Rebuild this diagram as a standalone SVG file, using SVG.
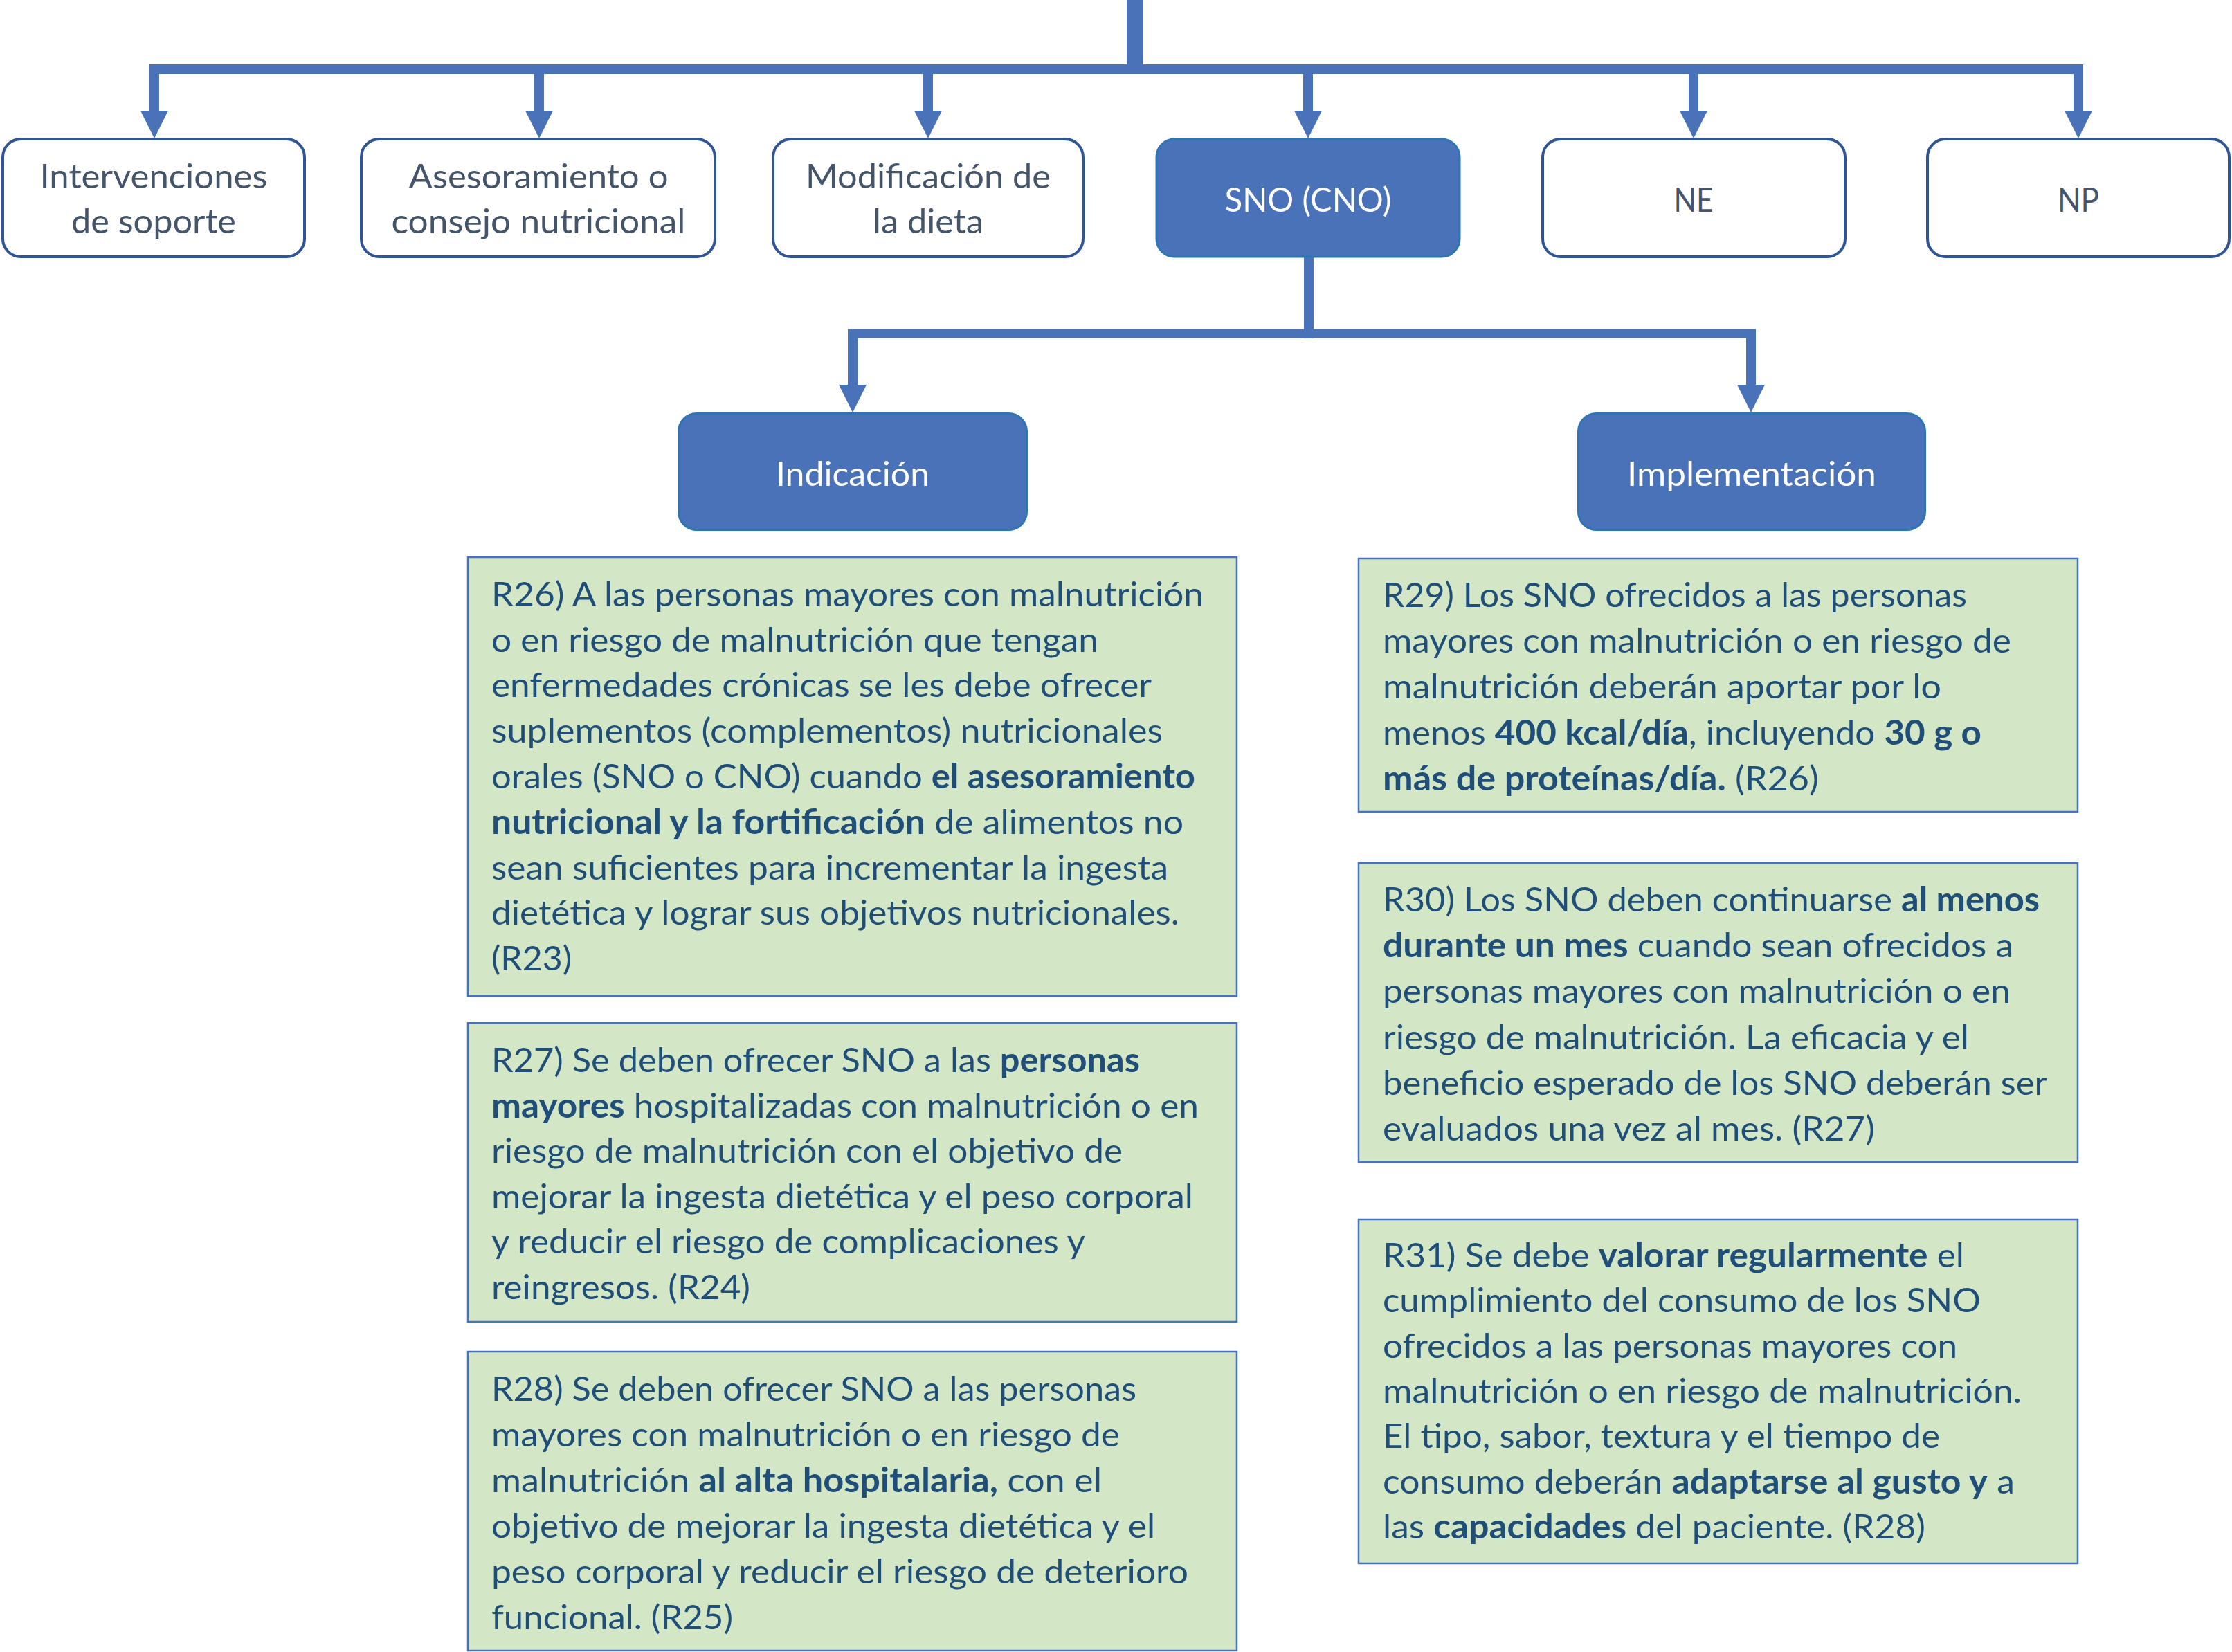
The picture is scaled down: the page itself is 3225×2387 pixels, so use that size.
<svg xmlns="http://www.w3.org/2000/svg" width="3225" height="2387" viewBox="0 0 3225 2387">
<style>
.conn{fill:none;stroke:#4A72B8;stroke-width:14}
.t{font-family:Lato,"Liberation Sans",sans-serif;font-size:49px}
.hdr rect{fill:#ffffff;stroke:#2F5597;stroke-width:4}
.hdr text{fill:#44546A;text-anchor:middle}
.blue rect{fill:#4A72B8;stroke:#2E75B6;stroke-width:3}
.blue text{fill:#ffffff;text-anchor:middle}
.rec rect{fill:#D3E6C6;stroke:#4472C4;stroke-width:2.5}
.rec text{fill:#1F4E79}
.b{font-weight:bold}
</style>
<defs>
<marker id="ah" markerUnits="userSpaceOnUse" viewBox="0 0 40 40" markerWidth="40" markerHeight="40" refX="9" refY="20" orient="auto">
<path d="M0,0 L40,20 L0,40 z" fill="#4A72B8"/>
</marker>
</defs>
<rect width="3225" height="2387" fill="#ffffff"/>
<g id="connectors">
<path class="conn" d="M1640,0 V107" style="stroke-width:24"/>
<path class="conn" d="M216,100 H3010"/>
<path class="conn" d="M223,100 V169" marker-end="url(#ah)"/>
<path class="conn" d="M779,100 V169" marker-end="url(#ah)"/>
<path class="conn" d="M1341,100 V169" marker-end="url(#ah)"/>
<path class="conn" d="M1890,100 V169" marker-end="url(#ah)"/>
<path class="conn" d="M2447,100 V169" marker-end="url(#ah)"/>
<path class="conn" d="M3003,100 V169" marker-end="url(#ah)"/>
<path class="conn" d="M1891,371 V489"/>
<path class="conn" d="M1225,482 H2537" style="stroke-width:13"/>
<path class="conn" d="M1232,482 V565" marker-end="url(#ah)"/>
<path class="conn" d="M2530,482 V565" marker-end="url(#ah)"/>
</g>
<g id="n-intervenciones" class="hdr">
<rect x="4" y="201" width="436" height="170" rx="26"/>
<text class="t" x="222" y="272" textLength="329" lengthAdjust="spacingAndGlyphs">Intervenciones</text>
<text class="t" x="222" y="337" textLength="238" lengthAdjust="spacingAndGlyphs">de soporte</text>
</g>
<g id="n-asesoramiento" class="hdr">
<rect x="522" y="201" width="511" height="170" rx="26"/>
<text class="t" x="778" y="272" textLength="375" lengthAdjust="spacingAndGlyphs">Asesoramiento o</text>
<text class="t" x="778" y="337" textLength="425" lengthAdjust="spacingAndGlyphs">consejo nutricional</text>
</g>
<g id="n-modificacion" class="hdr">
<rect x="1117" y="201" width="448" height="170" rx="26"/>
<text class="t" x="1341" y="272" textLength="354" lengthAdjust="spacingAndGlyphs">Modificación de</text>
<text class="t" x="1341" y="337" textLength="160" lengthAdjust="spacingAndGlyphs">la dieta</text>
</g>
<g id="n-sno" class="blue">
<rect x="1671" y="201" width="438" height="170" rx="26"/>
<text class="t" x="1890" y="306" textLength="241" lengthAdjust="spacingAndGlyphs">SNO (CNO)</text>
</g>
<g id="n-ne" class="hdr">
<rect x="2229" y="201" width="437" height="170" rx="26"/>
<text class="t" x="2447" y="306" textLength="57" lengthAdjust="spacingAndGlyphs">NE</text>
</g>
<g id="n-np" class="hdr">
<rect x="2785" y="201" width="436" height="170" rx="26"/>
<text class="t" x="3003" y="306" textLength="60" lengthAdjust="spacingAndGlyphs">NP</text>
</g>
<g id="n-indicacion" class="blue">
<rect x="980.5" y="597.5" width="503" height="168" rx="26"/>
<text class="t" x="1232" y="702" textLength="222" lengthAdjust="spacingAndGlyphs">Indicación</text>
</g>
<g id="n-implementacion" class="blue">
<rect x="2280.5" y="597.5" width="501" height="168" rx="26"/>
<text class="t" x="2531" y="702" textLength="360" lengthAdjust="spacingAndGlyphs">Implementación</text>
</g>
<g id="n-r26" class="rec">
<rect x="676" y="805" width="1111" height="634"/>
<text class="t" x="710" y="876" textLength="1029" lengthAdjust="spacingAndGlyphs">R26) A las personas mayores con malnutrición</text>
<text class="t" x="710" y="942" textLength="877" lengthAdjust="spacingAndGlyphs">o en riesgo de malnutrición que tengan</text>
<text class="t" x="710" y="1007" textLength="954" lengthAdjust="spacingAndGlyphs">enfermedades crónicas se les debe ofrecer</text>
<text class="t" x="710" y="1073" textLength="970" lengthAdjust="spacingAndGlyphs">suplementos (complementos) nutricionales</text>
<text class="t" x="710" y="1139" textLength="1017" lengthAdjust="spacingAndGlyphs">orales (SNO o CNO) cuando <tspan class="b">el asesoramiento</tspan></text>
<text class="t" x="710" y="1205" textLength="1000" lengthAdjust="spacingAndGlyphs"><tspan class="b">nutricional y la fortificación</tspan> de alimentos no</text>
<text class="t" x="710" y="1271" textLength="978" lengthAdjust="spacingAndGlyphs">sean suficientes para incrementar la ingesta</text>
<text class="t" x="710" y="1336" textLength="994" lengthAdjust="spacingAndGlyphs">dietética y lograr sus objetivos nutricionales.</text>
<text class="t" x="710" y="1402" textLength="116" lengthAdjust="spacingAndGlyphs">(R23)</text>
</g>
<g id="n-r27" class="rec">
<rect x="676" y="1478" width="1111" height="432"/>
<text class="t" x="710" y="1549" textLength="937" lengthAdjust="spacingAndGlyphs">R27) Se deben ofrecer SNO a las <tspan class="b">personas</tspan></text>
<text class="t" x="710" y="1615" textLength="1022" lengthAdjust="spacingAndGlyphs"><tspan class="b">mayores</tspan> hospitalizadas con malnutrición o en</text>
<text class="t" x="710" y="1680" textLength="912" lengthAdjust="spacingAndGlyphs">riesgo de malnutrición con el objetivo de</text>
<text class="t" x="710" y="1746" textLength="1014" lengthAdjust="spacingAndGlyphs">mejorar la ingesta dietética y el peso corporal</text>
<text class="t" x="710" y="1811" textLength="858" lengthAdjust="spacingAndGlyphs">y reducir el riesgo de complicaciones y</text>
<text class="t" x="710" y="1877" textLength="374" lengthAdjust="spacingAndGlyphs">reingresos. (R24)</text>
</g>
<g id="n-r28" class="rec">
<rect x="676" y="1953" width="1111" height="432"/>
<text class="t" x="710" y="2024" textLength="932" lengthAdjust="spacingAndGlyphs">R28) Se deben ofrecer SNO a las personas</text>
<text class="t" x="710" y="2090" textLength="908" lengthAdjust="spacingAndGlyphs">mayores con malnutrición o en riesgo de</text>
<text class="t" x="710" y="2156" textLength="882" lengthAdjust="spacingAndGlyphs">malnutrición <tspan class="b">al alta hospitalaria,</tspan> con el</text>
<text class="t" x="710" y="2222" textLength="959" lengthAdjust="spacingAndGlyphs">objetivo de mejorar la ingesta dietética y el</text>
<text class="t" x="710" y="2288" textLength="1007" lengthAdjust="spacingAndGlyphs">peso corporal y reducir el riesgo de deterioro</text>
<text class="t" x="710" y="2354" textLength="349" lengthAdjust="spacingAndGlyphs">funcional. (R25)</text>
</g>
<g id="n-r29" class="rec">
<rect x="1963" y="807" width="1039" height="366"/>
<text class="t" x="1998" y="877" textLength="844" lengthAdjust="spacingAndGlyphs">R29) Los SNO ofrecidos a las personas</text>
<text class="t" x="1998" y="943" textLength="908" lengthAdjust="spacingAndGlyphs">mayores con malnutrición o en riesgo de</text>
<text class="t" x="1998" y="1009" textLength="807" lengthAdjust="spacingAndGlyphs">malnutrición deberán aportar por lo</text>
<text class="t" x="1998" y="1076" textLength="865" lengthAdjust="spacingAndGlyphs">menos <tspan class="b">400 kcal/día</tspan>, incluyendo <tspan class="b">30 g o</tspan></text>
<text class="t" x="1998" y="1142" textLength="630" lengthAdjust="spacingAndGlyphs"><tspan class="b">más de proteínas/día.</tspan> (R26)</text>
</g>
<g id="n-r30" class="rec">
<rect x="1963" y="1247" width="1039" height="432"/>
<text class="t" x="1998" y="1317" textLength="949" lengthAdjust="spacingAndGlyphs">R30) Los SNO deben continuarse <tspan class="b">al menos</tspan></text>
<text class="t" x="1998" y="1383" textLength="911" lengthAdjust="spacingAndGlyphs"><tspan class="b">durante un mes</tspan> cuando sean ofrecidos a</text>
<text class="t" x="1998" y="1449" textLength="907" lengthAdjust="spacingAndGlyphs">personas mayores con malnutrición o en</text>
<text class="t" x="1998" y="1516" textLength="847" lengthAdjust="spacingAndGlyphs">riesgo de malnutrición. La eficacia y el</text>
<text class="t" x="1998" y="1582" textLength="960" lengthAdjust="spacingAndGlyphs">beneficio esperado de los SNO deberán ser</text>
<text class="t" x="1998" y="1648" textLength="711" lengthAdjust="spacingAndGlyphs">evaluados una vez al mes. (R27)</text>
</g>
<g id="n-r31" class="rec">
<rect x="1963" y="1762" width="1039" height="497"/>
<text class="t" x="1998" y="1831" textLength="840" lengthAdjust="spacingAndGlyphs">R31) Se debe <tspan class="b">valorar regularmente</tspan> el</text>
<text class="t" x="1998" y="1896" textLength="864" lengthAdjust="spacingAndGlyphs">cumplimiento del consumo de los SNO</text>
<text class="t" x="1998" y="1962" textLength="830" lengthAdjust="spacingAndGlyphs">ofrecidos a las personas mayores con</text>
<text class="t" x="1998" y="2027" textLength="923" lengthAdjust="spacingAndGlyphs">malnutrición o en riesgo de malnutrición.</text>
<text class="t" x="1998" y="2092" textLength="805" lengthAdjust="spacingAndGlyphs">El tipo, sabor, textura y el tiempo de</text>
<text class="t" x="1998" y="2158" textLength="913" lengthAdjust="spacingAndGlyphs">consumo deberán <tspan class="b">adaptarse al gusto y</tspan> a</text>
<text class="t" x="1998" y="2223" textLength="784" lengthAdjust="spacingAndGlyphs">las <tspan class="b">capacidades</tspan> del paciente. (R28)</text>
</g>
</svg>
